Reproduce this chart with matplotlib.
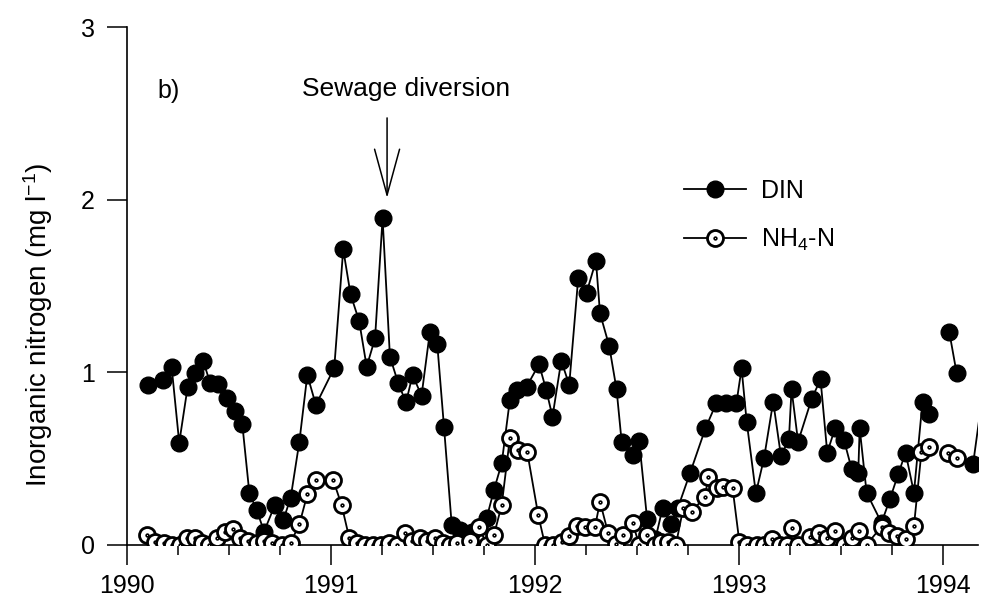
import numpy as np
import matplotlib
matplotlib.use('Agg')
import matplotlib.pyplot as plt
from matplotlib.path import Path
from matplotlib.ticker import MultipleLocator

plt.rcParams['font.family'] = ['Liberation Sans', 'DejaVu Sans']
plt.rcParams['mathtext.fontset'] = 'custom'
plt.rcParams['mathtext.rm'] = 'Liberation Sans'
plt.rcParams['mathtext.default'] = 'regular'

# DIN (filled circles) - decimal year, mg/l ; nan = gap in line
din_t = [1990.101, 1990.178, 1990.219, 1990.256, 1990.297, 1990.333, 1990.374, 1990.407,
         1990.448, 1990.489, 1990.529, 1990.565, 1990.600, 1990.636, 1990.672, 1990.725,
         1990.766, 1990.802, 1990.845, 1990.884, 1990.926, 1991.016, 1991.060, 1991.096,
         1991.138, 1991.175, 1991.216, 1991.253, 1991.289, 1991.330, 1991.368, 1991.400,
         1991.444, 1991.485, 1991.521, 1991.554, 1991.592, 1991.632, 1991.690, 1991.763,
         1991.799, 1991.837, 1991.877, 1991.910, 1991.959, 1992.020, 1992.056, 1992.086,
         1992.129, 1992.168, 1992.212, 1992.253, 1992.299, 1992.319, 1992.364, 1992.400,
         1992.425, 1992.479, 1992.511, 1992.550, 1992.590, 1992.626, 1992.665, 1992.700,
         1992.760, 1992.836, 1992.890, 1992.939, 1992.988, 1993.013, 1993.038, 1993.083,
         1993.123, 1993.168, 1993.206, 1993.245, 1993.258, 1993.290, 1993.356, 1993.400,
         1993.433, 1993.471, 1993.515, 1993.553, 1993.585, 1993.592, 1993.626, 1993.699,
         1993.740, 1993.781, 1993.817, 1993.858, 1993.900, 1993.933, 1993.980, 1994.031,
         1994.067, 1994.100, 1994.148, 1994.220]
din_v = [0.925, 0.954, 1.027, 0.590, 0.911, 0.992, 1.064, 0.938,
         0.930, 0.847, 0.776, 0.700, 0.297, 0.200, 0.075, 0.229,
         0.142, 0.268, 0.596, 0.983, 0.809, 1.024, 1.711, 1.450,
         1.296, 1.031, 1.195, 1.891, 1.089, 0.934, 0.824, 0.983,
         0.863, 1.234, 1.162, 0.683, 0.113, 0.084, 0.070, 0.152,
         0.316, 0.471, 0.838, 0.896, 0.915, 1.045, 0.893, 0.741,
         1.066, 0.925, 1.543, 1.460, 1.645, 1.340, 1.151, 0.900,
         0.596, 0.519, 0.600, 0.146, 0.030, 0.213, 0.120, 0.210,
         0.413, 0.674, 0.822, 0.822, 0.822, 1.021, 0.712, 0.297,
         0.500, 0.828, 0.513, 0.610, 0.900, 0.596, 0.842, 0.958,
         0.532, 0.674, 0.606, 0.436, 0.416, 0.674, 0.300, 0.126,
         0.262, 0.409, 0.532, 0.300, 0.828, 0.757, np.nan, 1.234,
         0.996, np.nan, 0.467, 1.090]

# NH4-N (open circles with dot)
nh4_t = [1990.096, 1990.137, 1990.181, 1990.219, 1990.260, 1990.296, 1990.333, 1990.366,
         1990.403, 1990.443, 1990.480, 1990.521, 1990.554, 1990.595, 1990.636, 1990.672,
         1990.712, 1990.758, 1990.802, 1990.845, 1990.884, 1990.926, 1991.011, 1991.052,
         1991.090, 1991.126, 1991.167, 1991.204, 1991.245, 1991.286, 1991.325, 1991.363,
         1991.396, 1991.436, 1991.472, 1991.510, 1991.547, 1991.583, 1991.619, 1991.684,
         1991.725, 1991.763, 1991.799, 1991.837, 1991.877, 1991.918, 1991.962, 1992.016,
         1992.049, 1992.087, 1992.131, 1992.168, 1992.204, 1992.245, 1992.294, 1992.319,
         1992.359, 1992.397, 1992.430, 1992.479, 1992.511, 1992.547, 1992.588, 1992.620,
         1992.653, 1992.691, 1992.727, 1992.768, 1992.833, 1992.850, 1992.891, 1992.923,
         1992.969, 1993.002, 1993.038, 1993.087, 1993.123, 1993.163, 1993.201, 1993.238,
         1993.258, 1993.291, 1993.348, 1993.394, 1993.433, 1993.471, 1993.515, 1993.553,
         1993.590, 1993.626, 1993.699, 1993.737, 1993.776, 1993.817, 1993.858, 1993.895,
         1993.933, 1993.980, 1994.026, 1994.067]
nh4_v = [0.055, 0.016, 0.007, 0.000, 0.000, 0.036, 0.036, 0.010,
         0.000, 0.036, 0.074, 0.088, 0.040, 0.020, 0.010, 0.020,
         0.010, 0.000, 0.010, 0.117, 0.291, 0.374, 0.374, 0.229,
         0.036, 0.007, 0.000, 0.000, 0.000, 0.007, 0.000, 0.065,
         0.020, 0.036, 0.020, 0.036, 0.007, 0.000, 0.007, 0.020,
         0.103, 0.000, 0.055, 0.229, 0.616, 0.548, 0.538, 0.171,
         0.000, 0.000, 0.016, 0.049, 0.107, 0.100, 0.100, 0.248,
         0.065, 0.003, 0.055, 0.123, 0.000, 0.055, 0.000, 0.016,
         0.016, 0.000, 0.210, 0.190, 0.277, 0.390, 0.326, 0.332,
         0.326, 0.016, 0.000, 0.000, 0.000, 0.030, 0.000, 0.000,
         0.097, 0.000, 0.042, 0.065, 0.035, 0.080, 0.000, 0.040,
         0.080, 0.000, 0.103, 0.068, 0.049, 0.030, 0.107, 0.538,
         0.563, np.nan, 0.532, 0.500]

year_ticks = [1990, 1991, 1992, 1993, 1994]
y_ticks = [0, 1, 2, 3]

# open circle with a dot in the middle
ring_dot = Path.make_compound_path(Path.unit_circle(), Path.circle((0, 0), 0.1))

fig = plt.figure(figsize=(9.83, 6.11), dpi=100)
ax = fig.add_axes([0.1292, 0.1088, 0.8657, 0.847])

ax.plot(din_t, din_v, color='black', lw=1.3, marker='o', ms=12,
        mfc='black', mec='black', label='DIN', zorder=3)
ax.plot(nh4_t, nh4_v, color='black', lw=1.3, marker=ring_dot, ms=11.5,
        mfc='white', mec='black', mew=2, label='NH$_4$-N', zorder=4)

ax.set_xlim(1990, 1994.172)
ax.set_ylim(0, 3)
ax.set_xticks(year_ticks)
ax.set_yticks(y_ticks)
ax.xaxis.set_minor_locator(MultipleLocator(0.25))
ax.tick_params(axis='both', which='major', direction='out', length=14.4, width=1.1,
               labelsize=18, pad=9)
ax.tick_params(axis='x', which='major', pad=7)
ax.tick_params(axis='x', which='minor', direction='out', length=7, width=1.1)
for s in ['top', 'right']:
    ax.spines[s].set_visible(False)
for s in ['left', 'bottom']:
    ax.spines[s].set_linewidth(1.2)

ax.set_ylabel('Inorganic nitrogen (mg l$^{-1}$)', fontsize=20)
ax.yaxis.set_label_coords(-0.085, 0.424)

ax.text(1990.147, 2.63, 'b)', fontsize=18, va='center', ha='left')
ax.text(1991.37, 2.64, 'Sewage diversion', fontsize=19, va='center', ha='center')
ax.annotate('', xy=(1991.275, 2.009), xytext=(1991.275, 2.473),
            arrowprops=dict(arrowstyle='->,head_length=1.65,head_width=0.45',
                            lw=1.1, color='black', shrinkA=0, shrinkB=0,
                            mutation_scale=20))

leg = ax.legend(loc='upper left', bbox_to_anchor=(0.628, 0.75), frameon=False,
                fontsize=18, handlelength=2.5, handletextpad=0.6, labelspacing=0.95)

fig.savefig('out.png', dpi=100)
